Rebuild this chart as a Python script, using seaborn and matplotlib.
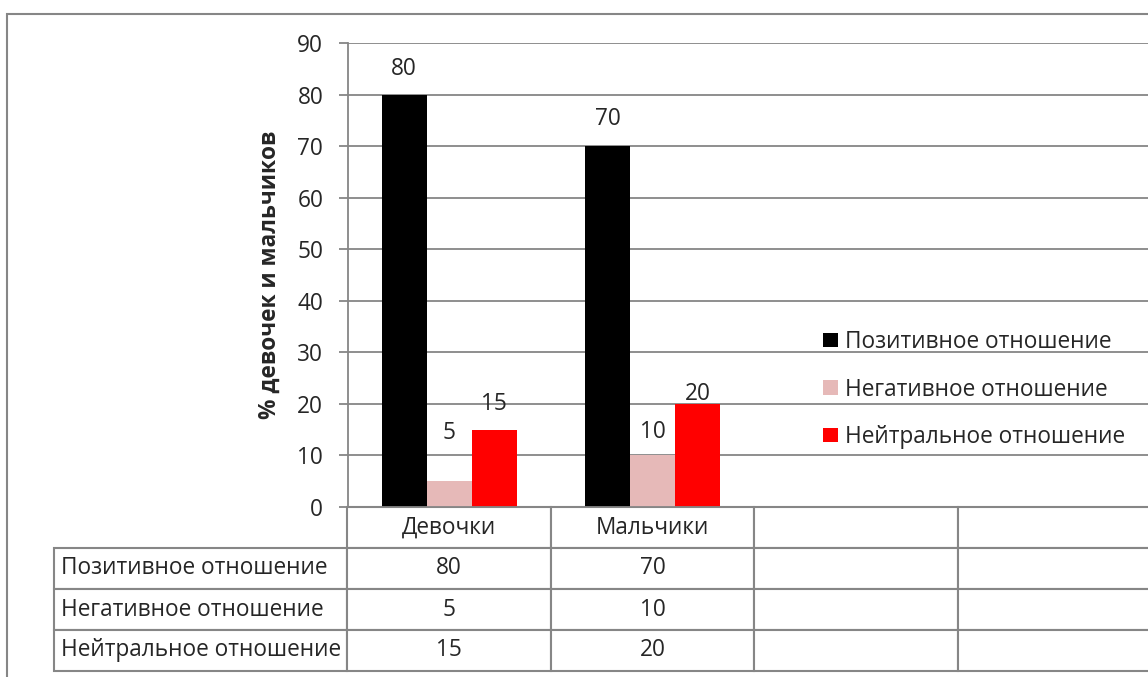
import pandas as pd
import seaborn as sns
import matplotlib.pyplot as plt
from matplotlib.patches import Rectangle

# Данные диаграммы
categories = ['Девочки', 'Мальчики']
extra_slots = ['', '']  # пустые категории, как в исходной таблице Excel
series = ['Позитивное отношение', 'Негативное отношение', 'Нейтральное отношение']
positive = [80, 70]
negative = [5, 10]
neutral = [15, 20]
colors = ['#000000', '#E6B9B8', '#FF0000']
y_ticks = [0, 10, 20, 30, 40, 50, 60, 70, 80, 90]

# смещения подписей над столбцами (пиксели), как в исходнике
label_offsets = [[26, 27], [48, 23], [26, 10]]

values = [positive, negative, neutral]
rows = []
for s, vals in zip(series, values):
    for c, v in zip(categories, vals):
        rows.append({'Категория': c, 'Отношение': s, 'Процент': v})
df = pd.DataFrame(rows)

sns.set_style('white')
plt.rcParams['font.family'] = ['Open Sans', 'DejaVu Sans']
FS = 16.3
GRAY = '#868686'

W, H = 1148, 677
fig = plt.figure(figsize=(W / 100, H / 100), dpi=100)
ax_l, ax_r, ax_t, ax_b = 347.5, 1161, 43, 507
aw, ah = ax_r - ax_l, ax_b - ax_t
ax = fig.add_axes([ax_l / W, 1 - ax_b / H, aw / W, ah / H])

sns.barplot(data=df, x='Категория', y='Процент', hue='Отношение',
            order=categories, hue_order=series, palette=colors,
            width=0.663, gap=0, saturation=1, ax=ax, legend=True)
ax.set_xlim(-0.5, len(categories) + len(extra_slots) - 0.5)
ax.set_ylim(0, 90)
ax.set_yticks(y_ticks)
ax.grid(axis='y', color=GRAY, lw=1.3)
ax.set_axisbelow(True)
for b in ax.patches:
    b.set_edgecolor('none')

# подписи значений
for cont, offs in zip(ax.containers, label_offsets):
    for bar, off in zip(cont, offs):
        h = bar.get_height()
        ax.annotate(f'{h:g}', (bar.get_x() + bar.get_width() / 2, h),
                    xytext=(0, off * 0.72), textcoords='offset points',
                    ha='center', va='center', fontsize=FS)

ax.tick_params(axis='y', length=6.5, width=1.3, color=GRAY, pad=11, labelsize=FS, left=True)
ax.tick_params(axis='x', bottom=False, labelbottom=False)
ax.set_xlabel('')
for sp in ['top', 'right']:
    ax.spines[sp].set_visible(False)
for sp in ['left', 'bottom']:
    ax.spines[sp].set_color(GRAY)
    ax.spines[sp].set_linewidth(1.3)

ax.set_ylabel('% девочек и мальчиков', fontsize=FS, fontweight='bold')
ax.yaxis.set_label_coords(-(ax_l - 282) / aw, 0.5)

# легенда
ax.legend(loc='center left', bbox_to_anchor=(823 / W, 1 - 389.5 / H),
          bbox_transform=fig.transFigure, frameon=False, fontsize=FS,
          handlelength=0.66, handleheight=0.6, handletextpad=0.33,
          labelspacing=1.04, borderpad=0, borderaxespad=0)

# таблица данных (bbox задаёт только область ячеек данных)
cell_text = [[f'{v:g}' for v in vals] + extra_slots for vals in values]
col_labels = categories + extra_slots
lab_w = ax_l - 52
tab_h = (671 - ax_b) / ah
tbl = ax.table(cellText=cell_text, rowLabels=series, colLabels=col_labels,
               cellLoc='center', rowLoc='left', colLoc='center',
               bbox=[0, -tab_h, 1, tab_h])
tbl.auto_set_font_size(False)
tbl.set_fontsize(FS)
n_cols = len(col_labels)
for (r, c), cell in tbl.get_celld().items():
    cell.set_edgecolor(GRAY)
    cell.set_linewidth(1.5)
    if c == -1:
        cell.set_width(lab_w / aw)
        cell.PAD = 7 / lab_w
    else:
        cell.set_width(1 / n_cols)

# рамка диаграммы
fig.add_artist(Rectangle((7 / W, -0.1), 1.2, 1 - 14 / H + 0.1,
                         transform=fig.transFigure, fill=False,
                         edgecolor=GRAY, lw=1.5))

plt.savefig('out.png', dpi=100)
plt.close()
